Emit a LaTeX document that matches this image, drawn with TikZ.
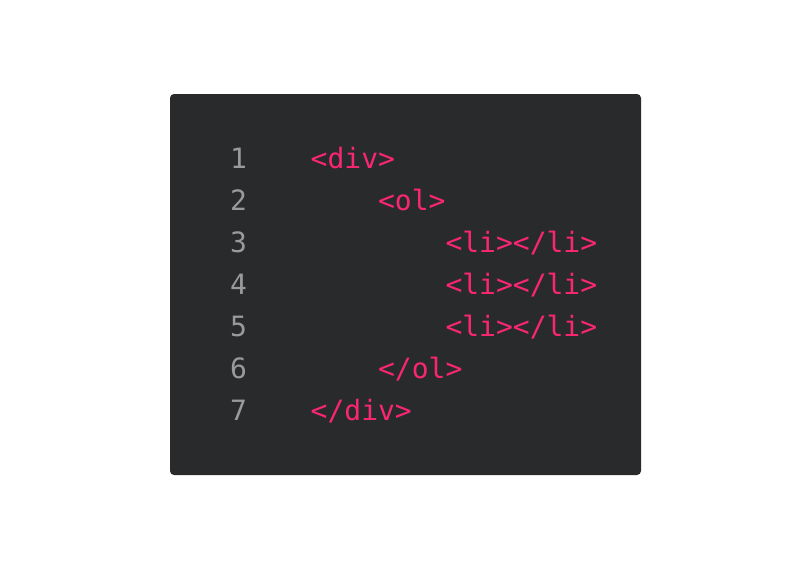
\documentclass[tikz,border=0pt]{standalone}
\usepackage{fontspec}
\setmonofont{DejaVu Sans Mono}
\definecolor{editorbg}{HTML}{292A2C}
\definecolor{tagpink}{HTML}{F92672}
\definecolor{linegray}{HTML}{9A9A9A}
\tikzset{
  codetext/.style={anchor=base west, inner sep=0pt, color=tagpink, font=\ttfamily\fontsize{28}{34}\selectfont},
  linenum/.style={anchor=base west, inner sep=0pt, color=linegray, font=\ttfamily\fontsize{28}{34}\selectfont}
}
\begin{document}
\begin{tikzpicture}[x=1pt, y=-1pt]
    % page size
    \useasboundingbox [fill=white] (0, 0) rectangle (812, 568);
    % editor panel
    \fill [editorbg, rounded corners=4pt] (170, 94) rectangle (641, 475);
    % line numbers
    \foreach \n in {1,...,7}
        \node [linenum] (num\n) at (230, 126.5 + 42*\n) {\n};
    % code lines
    \node [codetext] (divopen) at (310.5, 168.5) {<div>};
    \node [codetext] (olopen) at (377.9, 210.5) {<ol>};
    \node [codetext] (itema) at (445.3, 252.5) {<li></li>};
    \node [codetext] (itemb) at (445.3, 294.5) {<li></li>};
    \node [codetext] (itemc) at (445.3, 336.5) {<li></li>};
    \node [codetext] (olclose) at (377.9, 378.5) {</ol>};
    \node [codetext] (divclose) at (310.5, 420.5) {</div>};
\end{tikzpicture}
\end{document}
